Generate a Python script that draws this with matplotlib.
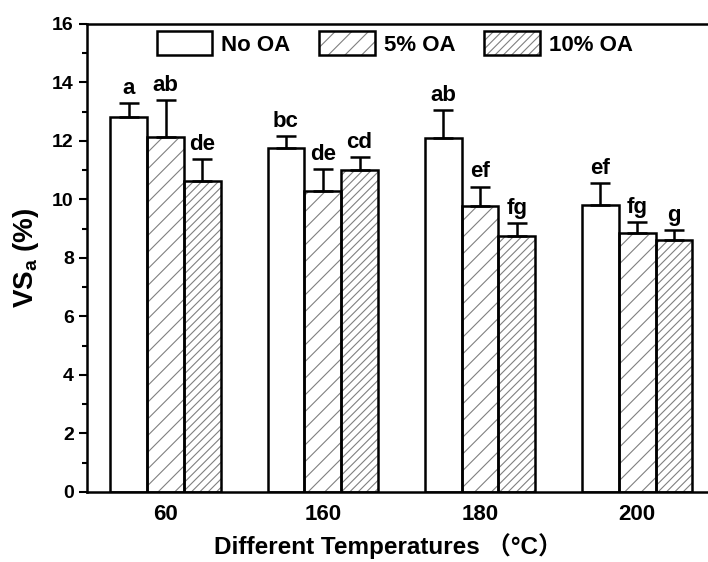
import numpy as np
import matplotlib
matplotlib.use("Agg")
import matplotlib.pyplot as plt

temps = ['60', '160', '180', '200']
series = ['No OA', '5% OA', '10% OA']
no_oa = [12.83, 11.77, 12.09, 9.81]
oa5 = [12.13, 10.29, 9.79, 8.84]
oa10 = [10.63, 11.02, 8.75, 8.62]
err_no = [0.46, 0.40, 0.97, 0.76]
err_5 = [1.27, 0.74, 0.65, 0.40]
err_10 = [0.76, 0.43, 0.44, 0.34]
letters_no = ['a', 'bc', 'ab', 'ef']
letters_5 = ['ab', 'de', 'ef', 'fg']
letters_10 = ['de', 'cd', 'fg', 'g']

plt.rcParams['font.family'] = ['Liberation Sans', 'Noto Sans CJK SC']
plt.rcParams['font.weight'] = 'bold'
plt.rcParams['mathtext.default'] = 'regular'
plt.rcParams['hatch.linewidth'] = 0.8

fig = plt.figure(figsize=(7.08, 5.62), dpi=100)
ax = fig.add_axes([0.1229, 0.1246, 0.888, 0.8327])

x = np.arange(len(temps))
w = 0.234
vals = [no_oa, oa5, oa10]
errs = [err_no, err_5, err_10]
labs = [letters_no, letters_5, letters_10]
hatches = ['', '//', '////']
handles = []
for i in range(3):
    pos = x + (i - 1) * w
    h1 = ax.bar(pos, vals[i], w, color='white', edgecolor='0.5', hatch=hatches[i], linewidth=0, zorder=2)
    h2 = ax.bar(pos, vals[i], w, fill=False, edgecolor='black', linewidth=1.8, zorder=3)
    ax.errorbar(pos, vals[i], yerr=[np.zeros(4), errs[i]], fmt='none', ecolor='black',
                elinewidth=1.8, capsize=7.5, capthick=1.8, zorder=4)
    for p, v, e, t in zip(pos, vals[i], errs[i], labs[i]):
        ax.annotate(t, (p, v + e), xytext=(0, 3), textcoords='offset points',
                    ha='center', va='bottom', fontsize=16, fontweight='bold')
    handles.append((h1[0], h2[0]))

ax.set_xlim(-0.5, 3.5)
ax.set_ylim(0, 16)
ax.set_yticks(np.arange(0, 17, 2))
ax.set_yticks(np.arange(1, 16, 2), minor=True)
ax.set_xticks(x)
ax.set_xticklabels(temps)
ax.tick_params(axis='x', length=0, labelsize=16, pad=9)
ax.tick_params(axis='y', which='major', length=6, width=1.5, labelsize=14, direction='out')
ax.tick_params(axis='y', which='minor', length=3.5, width=1.5, direction='out')
for s in ax.spines.values():
    s.set_linewidth(1.8)

ax.set_ylabel('VS$_{a}$ (%)', fontsize=20, fontweight='bold', labelpad=8)
ax.set_xlabel('Different Temperatures （°C）', fontsize=17.5, fontweight='bold')
ax.xaxis.set_label_coords(0.479, -0.088)

ax.legend(handles, series, loc='upper left', bbox_to_anchor=(0.079, 1.027), ncol=3,
          frameon=False, handlelength=2.5, handleheight=1.25,
          handletextpad=0.4, columnspacing=1.3, prop={'weight': 'bold', 'size': 16})

fig.savefig('out.png', dpi=100)
